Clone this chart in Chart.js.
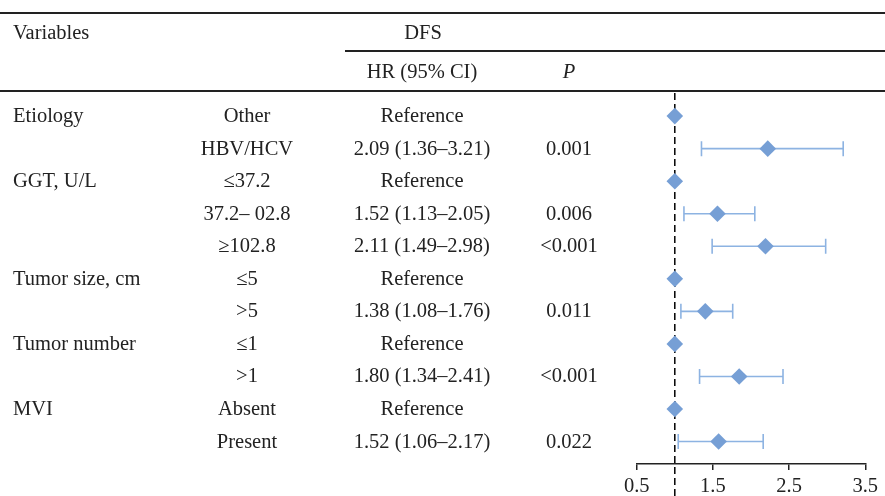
<!DOCTYPE html>
<html lang="en">
<head>
    <meta charset="UTF-8">
    <title>Forest plot DFS</title>
    <style>
        body {
            margin: 0;
            padding: 0;
            background: #fff;
            font-family: "Liberation Serif", "DejaVu Serif", serif;
            color: #222;
        }

        #wrap {
            position: relative;
            width: 885px;
            height: 496px;
            overflow: hidden;
        }

        #forest {
            position: absolute;
            left: 0;
            top: 0;
        }

        .rule {
            position: absolute;
            background: #222;
        }

        .txt {
            position: absolute;
            font-size: 20.5px;
            line-height: 24px;
            white-space: nowrap;
            transform: translate(-50%, -50%);
        }

        .txt.left {
            transform: translate(0, -50%);
        }
    </style>
    <script src="https://cdn.jsdelivr.net/npm/chart.js"></script>
</head>
<body>
    <div id="wrap">
        <canvas id="forest" width="885" height="496"></canvas>
        <div class="rule" style="left:0; top:12px; width:885px; height:2px;"></div>
        <div class="rule" style="left:345px; top:50px; width:540px; height:2px;"></div>
        <div class="rule" style="left:0; top:90px; width:885px; height:2px;"></div>
        <div class="txt left" style="left:13px; top:32px;">Variables</div>
        <div class="txt" style="left:423px; top:32px;">DFS</div>
        <div class="txt" style="left:422px; top:71px;">HR (95% CI)</div>
        <div class="txt" style="left:569px; top:71px;"><i>P</i></div>
    </div>

    <script>
        // table columns
        const variables = ["Etiology", "", "GGT, U/L", "", "", "Tumor size, cm", "", "Tumor number", "", "MVI", ""];
        const subgroups = ["Other", "HBV/HCV", "≤37.2", "37.2– 02.8", "≥102.8", "≤5", ">5", "≤1", ">1", "Absent", "Present"];
        const hrText = ["Reference", "2.09 (1.36–3.21)", "Reference", "1.52 (1.13–2.05)", "2.11 (1.49–2.98)",
            "Reference", "1.38 (1.08–1.76)", "Reference", "1.80 (1.34–2.41)", "Reference", "1.52 (1.06–2.17)"];
        const pText = ["", "0.001", "", "0.006", "<0.001", "", "0.011", "", "<0.001", "", "0.022"];

        // plotted marks
        const hrPoint = [1, 2.22, 1, 1.56, 2.19, 1, 1.40, 1, 1.845, 1, 1.575];
        const ciLow = [null, 1.35, null, 1.12, 1.49, null, 1.08, null, 1.325, null, 1.045];
        const ciHigh = [null, 3.21, null, 2.05, 2.98, null, 1.76, null, 2.42, null, 2.16];
        const xTicks = [0.5, 1.5, 2.5, 3.5];

        const rows = subgroups.map((_, i) => i + 1);
        const yMin = 0.29;
        const yMax = 11.69;

        const diamondColor = "#769fd5";
        const barColor = "#8db3e2";

        const datasets = [];

        datasets.push({
            type: "scatter",
            data: rows.map((r, i) => ({ x: hrPoint[i], y: r })),
            pointStyle: "rectRot",
            pointRadius: 8.3,
            pointHoverRadius: 8.3,
            backgroundColor: diamondColor,
            borderWidth: 0,
            order: 0
        });

        rows.forEach((r, i) => {
            if (ciLow[i] === null) return;
            datasets.push({
                type: "line",
                data: [{ x: ciLow[i], y: r }, { x: ciHigh[i], y: r }],
                borderColor: barColor,
                borderWidth: 1.6,
                pointStyle: "line",
                rotation: 90,
                pointRadius: 7.5,
                pointBorderColor: barColor,
                pointBorderWidth: 1.6,
                order: 1
            });
        });

        // reference line at HR = 1
        datasets.push({
            type: "line",
            data: [{ x: 1, y: yMin }, { x: 1, y: 12.8 }],
            borderColor: "#000",
            borderWidth: 1.5,
            borderDash: [7, 4],
            pointRadius: 0,
            clip: false,
            order: 2
        });

        const ctx = document.getElementById("forest").getContext("2d");
        const chart = new Chart(ctx, {
            type: "scatter",
            data: { datasets: datasets },
            options: {
                responsive: false,
                animation: false,
                events: [],
                layout: {
                    padding: { left: 636.7, right: 19.7, top: 93, bottom: 0 }
                },
                plugins: {
                    legend: { display: false },
                    tooltip: { enabled: false }
                },
                scales: {
                    x: {
                        type: "linear",
                        min: 0.5,
                        max: 3.5,
                        afterBuildTicks: (axis) => {
                            axis.ticks = xTicks.map(v => ({ value: v }));
                        },
                        afterFit: (axis) => {
                            axis.height = 32;
                        },
                        ticks: {
                            color: "#222",
                            padding: 5,
                            maxRotation: 0,
                            font: { family: "'Liberation Serif', serif", size: 20.5, lineHeight: 1.1 },
                            callback: (v) => v.toFixed(1)
                        },
                        grid: {
                            drawOnChartArea: false,
                            drawTicks: true,
                            tickLength: 6,
                            color: "#222",
                            lineWidth: 1.5
                        },
                        border: { display: true, color: "#222", width: 1.5 }
                    },
                    y: {
                        display: false,
                        reverse: true,
                        min: yMin,
                        max: yMax
                    }
                }
            }
        });

        // table text, lined up with the rows of the plot
        const wrap = document.getElementById("wrap");
        function addText(str, x, y, left) {
            if (!str) return;
            const d = document.createElement("div");
            d.className = left ? "txt left" : "txt";
            d.style.left = x + "px";
            d.style.top = y + "px";
            d.textContent = str;
            wrap.appendChild(d);
        }

        rows.forEach((r, i) => {
            const y = chart.scales.y.getPixelForValue(r) - 1;
            addText(variables[i], 13, y, true);
            addText(subgroups[i], 247, y);
            addText(hrText[i], 422, y);
            addText(pText[i], 569, y);
        });
    </script>
</body>
</html>
